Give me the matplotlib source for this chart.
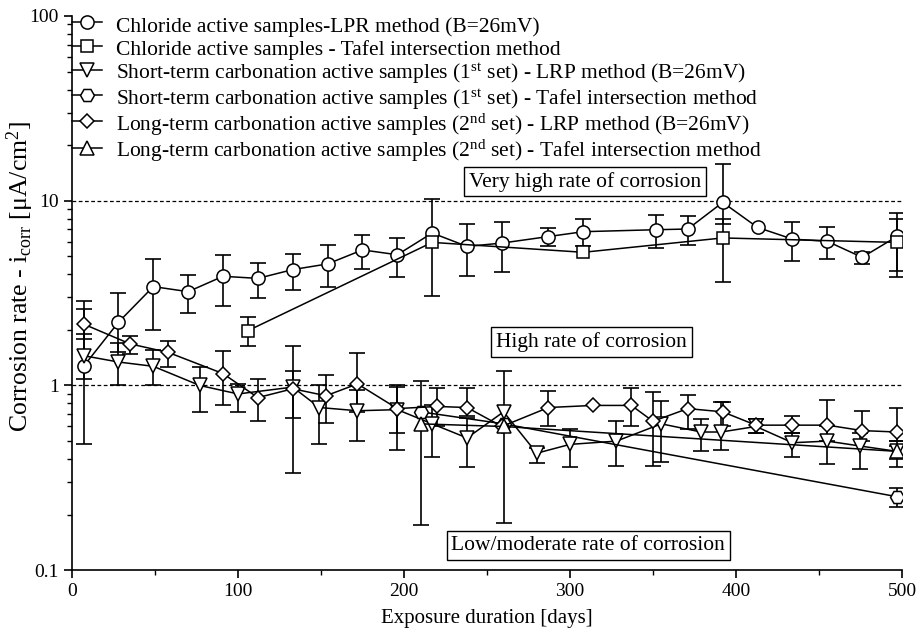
import numpy as np
import matplotlib
matplotlib.use("Agg")
import matplotlib.pyplot as plt
from matplotlib.ticker import LogLocator, FixedLocator, MultipleLocator, FuncFormatter

nan = np.nan

# Chloride active samples - LPR
cl_lpr_x = [7, 28, 49, 70, 91, 112, 133, 154, 175, 196, 217, 238, 259, 287, 308, 352, 371, 392, 413, 434, 455, 476, 497]
cl_lpr_y = [1.27, 2.2, 3.43, 3.22, 3.9, 3.8, 4.24, 4.55, 5.42, 5.1, 6.69, 5.66, 5.9, 6.4, 6.8, 6.97, 7.03, 9.8, 7.17, 6.2, 6.03, 4.94, 6.41]
cl_lpr_hi = [2.6, 3.17, 4.84, 3.98, 5.1, 4.58, 5.15, 5.76, 6.53, 6.29, nan, 7.48, 7.7, 7.12, 7.96, 8.4, 8.3, 15.8, nan, 7.7, 7.17, 5.3, 8.54]
cl_lpr_lo = [0.485, 1.52, 2.0, 2.46, 2.71, 2.96, 3.29, 3.4, 4.27, 3.88, nan, 3.9, 4.1, 5.71, 5.7, 5.55, 5.76, 7.5, nan, 4.74, 4.84, 4.55, 4.19]

# Chloride active samples - Tafel
cl_taf_x = [106, 217, 308, 392, 497]
cl_taf_y = [1.98, 5.95, 5.26, 6.29, 5.95]
cl_taf_hi = [2.34, 10.2, nan, 8.0, 7.96]
cl_taf_lo = [1.64, 3.04, nan, 3.65, 3.88]

# Short-term carbonation (1st set) - LRP
st_lrp_x = [7, 28, 49, 77, 100, 133, 149, 172, 196, 217, 238, 260, 280, 300, 328, 355, 379, 391, 412, 434, 455, 475, 497]
st_lrp_y = [1.45, 1.34, 1.27, 1.0, 0.90, 0.98, 0.76, 0.73, 0.74, 0.62, 0.52, 0.72, 0.43, 0.48, 0.50, 0.62, 0.56, 0.56, 0.60, 0.49, 0.50, 0.47, 0.44]
st_lrp_hi = [1.9, 1.7, 1.55, 1.26, 1.02, 1.64, 1.0, 0.95, 1.0, 0.78, 0.67, 1.2, 0.46, 0.585, 0.64, 0.82, 0.66, 0.81, 0.66, 0.55, 0.6, 0.55, 0.5]
st_lrp_lo = [1.09, 1.0, 1.0, 0.72, 0.72, 0.336, 0.48, 0.5, 0.45, 0.41, 0.36, 0.18, 0.38, 0.36, 0.365, 0.385, 0.44, 0.45, 0.55, 0.41, 0.377, 0.355, 0.36]

# Short-term carbonation (1st set) - Tafel
st_taf_x = [210, 260, 497]
st_taf_y = [0.72, 0.62, 0.25]
st_taf_hi = [nan, nan, 0.277]
st_taf_lo = [nan, nan, 0.22]

# Long-term carbonation (2nd set) - LRP
lt_lrp_x = [7, 35, 58, 91, 112, 133, 153, 172, 196, 220, 238, 259, 287, 314, 337, 350, 371, 392, 412, 434, 455, 476, 497]
lt_lrp_y = [2.15, 1.68, 1.51, 1.16, 0.86, 0.96, 0.88, 1.02, 0.75, 0.77, 0.76, 0.60, 0.76, 0.78, 0.78, 0.64, 0.75, 0.72, 0.61, 0.61, 0.61, 0.57, 0.56]
lt_lrp_hi = [2.86, 1.86, 1.75, 1.53, 1.09, 1.2, 1.14, 1.5, 0.98, 0.975, 0.975, nan, 0.93, nan, 0.97, 0.92, 0.89, 0.81, 0.66, 0.68, 0.83, 0.73, 0.76]
lt_lrp_lo = [1.79, 1.48, 1.26, 0.78, 0.64, 0.67, 0.63, 0.72, 0.55, 0.6, 0.68, nan, 0.6, nan, 0.6, 0.365, 0.58, 0.6, 0.55, 0.55, 0.5, 0.5, 0.5]

# Long-term carbonation (2nd set) - Tafel
lt_taf_x = [210, 260, 497]
lt_taf_y = [0.62, 0.60, 0.44]
lt_taf_hi = [1.06, nan, 0.47]
lt_taf_lo = [0.175, nan, 0.40]

labels = [
    "Chloride active samples-LPR method (B=26mV)",
    "Chloride active samples - Tafel intersection method",
    r"Short-term carbonation active samples (1$^{\rm st}$ set) - LRP method (B=26mV)",
    r"Short-term carbonation active samples (1$^{\rm st}$ set) - Tafel intersection method",
    r"Long-term carbonation active samples (2$^{\rm nd}$ set) - LRP method (B=26mV)",
    r"Long-term carbonation active samples (2$^{\rm nd}$ set) - Tafel intersection method",
]

# rate-of-corrosion zone labels (x, y in data units)
zone_text = ["Very high rate of corrosion", "High rate of corrosion", "Low/moderate rate of corrosion"]
zone_x = [309, 313, 311]
zone_y = [12.7, 1.72, 0.136]

plt.rcParams["font.family"] = ["Liberation Serif", "DejaVu Serif"]
plt.rcParams["mathtext.fontset"] = "custom"
plt.rcParams["mathtext.rm"] = "Liberation Serif"
plt.rcParams["mathtext.it"] = "Liberation Serif:italic"
plt.rcParams["mathtext.bf"] = "Liberation Serif:bold"

fig = plt.figure(figsize=(9.19, 6.4), dpi=100)
ax = fig.add_axes([0.0783, 0.109, 0.9032, 0.866])

series = [
    (cl_lpr_x, cl_lpr_y, cl_lpr_lo, cl_lpr_hi, "o", 9.5),
    (cl_taf_x, cl_taf_y, cl_taf_lo, cl_taf_hi, "s", 9),
    (st_lrp_x, st_lrp_y, st_lrp_lo, st_lrp_hi, "v", 10),
    (st_taf_x, st_taf_y, st_taf_lo, st_taf_hi, "H", 10),
    (lt_lrp_x, lt_lrp_y, lt_lrp_lo, lt_lrp_hi, "D", 7),
    (lt_taf_x, lt_taf_y, lt_taf_lo, lt_taf_hi, "^", 10),
]

handles = []
for (x, y, lo, hi, m, ms), lab in zip(series, labels):
    x = np.array(x, float)
    y = np.array(y, float)
    lo = np.array(lo, float)
    hi = np.array(hi, float)
    ok = ~np.isnan(lo)
    ax.errorbar(x[ok], y[ok], yerr=[y[ok] - lo[ok], hi[ok] - y[ok]], fmt="none",
                ecolor="black", elinewidth=1.2, capsize=5.5, capthick=1.2, zorder=2)
    h, = ax.plot(x, y, color="black", lw=1.1, marker=m, ms=ms, mfc="white",
                 mec="black", mew=1.1, zorder=3, label=lab)
    handles.append(h)

ax.axhline(10, color="black", ls=(0, (3, 2)), lw=0.9, zorder=1)
ax.axhline(1, color="black", ls=(0, (3, 2)), lw=0.9, zorder=1)

box = dict(boxstyle="square,pad=0.22", fc="white", ec="black", lw=1)
for t, zx, zy in zip(zone_text, zone_x, zone_y):
    ax.text(zx, zy, t, fontsize=15.5, ha="center", va="center", bbox=box, zorder=5)

ax.set_yscale("log")
ax.set_xlim(0, 500)
ax.set_ylim(0.1, 100)
ax.xaxis.set_major_locator(MultipleLocator(100))
ax.xaxis.set_minor_locator(MultipleLocator(50))
ax.yaxis.set_major_locator(FixedLocator([0.1, 1, 10, 100]))
ax.yaxis.set_minor_locator(LogLocator(base=10, subs=np.arange(2, 10)))
ax.yaxis.set_major_formatter(FuncFormatter(lambda v, p: f"{v:g}"))
ax.yaxis.set_minor_formatter(FuncFormatter(lambda v, p: ""))
ax.tick_params(which="major", direction="out", length=6, width=1.2, labelsize=14)
ax.tick_params(which="minor", direction="out", length=3.5, width=1.0)
for s in ["top", "right"]:
    ax.spines[s].set_visible(False)
for s in ["left", "bottom"]:
    ax.spines[s].set_linewidth(1.2)

ax.set_xlabel("Exposure duration [days]", fontsize=15, labelpad=6)
ax.set_ylabel(r"Corrosion rate - i$_{\rm corr}$ [$\rm\mu$A/cm$^2$]", fontsize=18.5)
ax.yaxis.set_label_coords(-0.043, 0.53)

ax.legend(handles=handles, loc="upper left", bbox_to_anchor=(0.0, 1.0055), frameon=False,
          fontsize=15.5, handlelength=1.4, handleheight=1.25, handletextpad=0.65,
          labelspacing=0.0, borderpad=0, borderaxespad=0)

fig.savefig("out.png", dpi=100)
